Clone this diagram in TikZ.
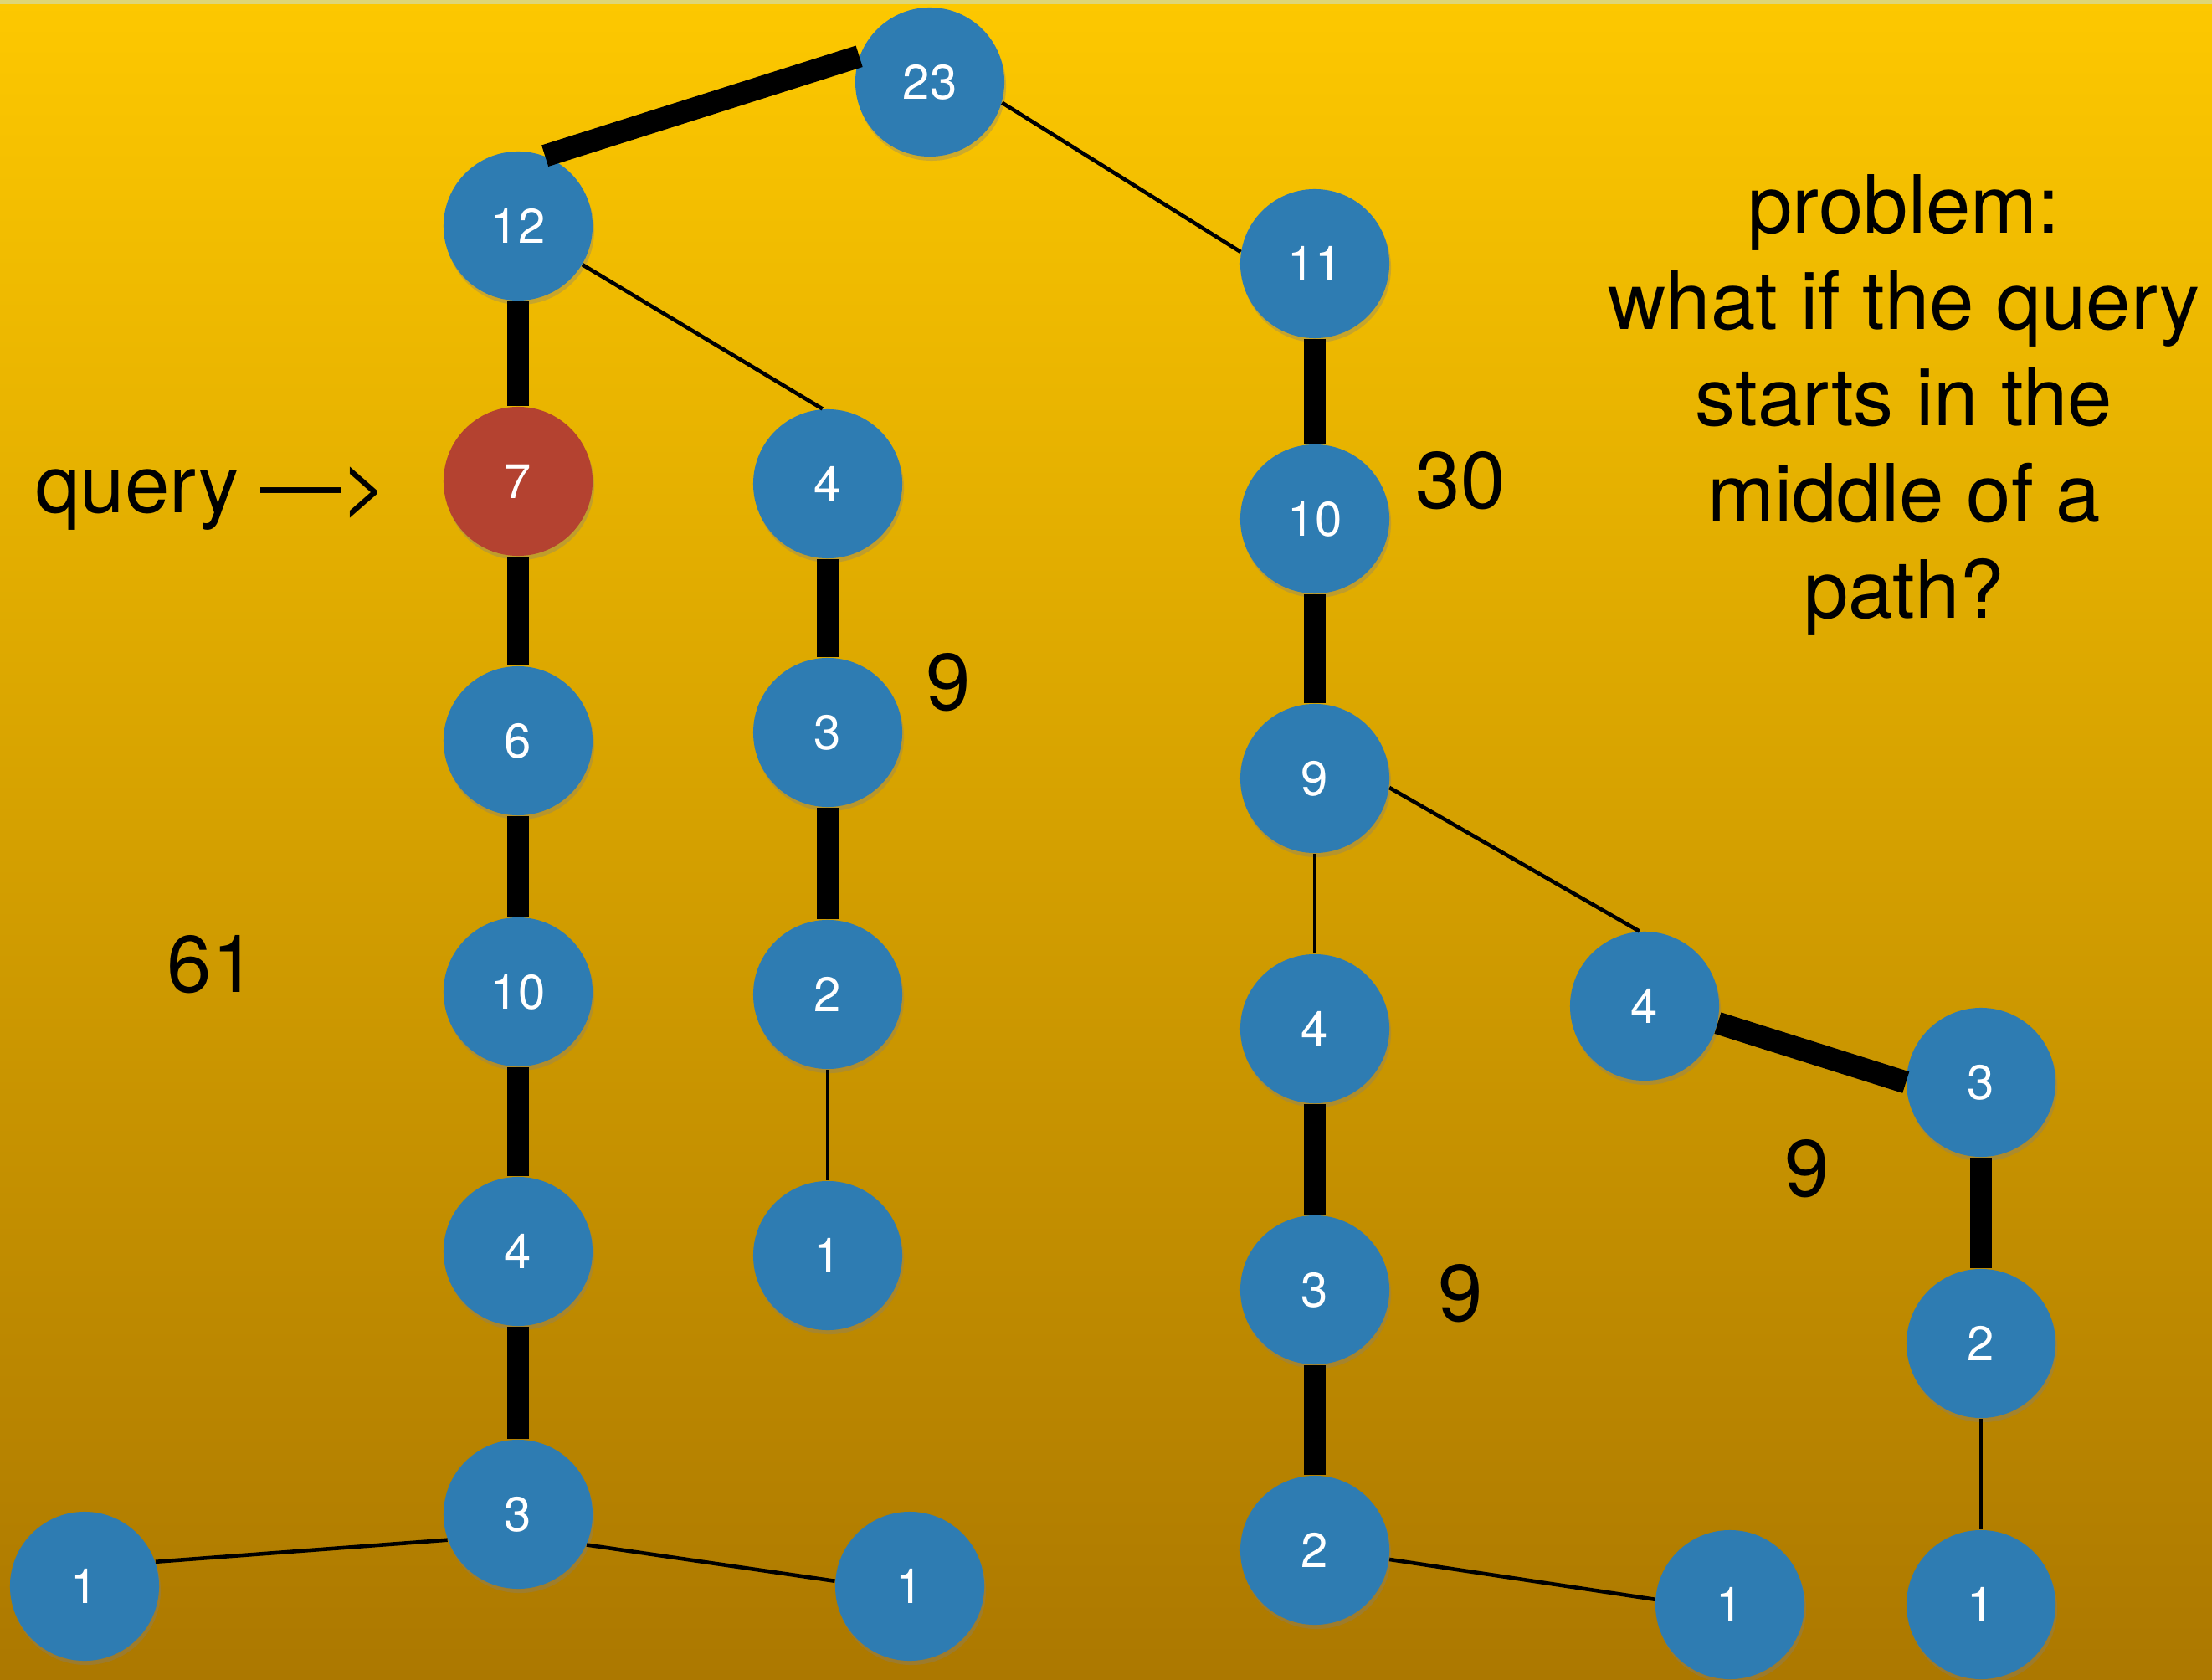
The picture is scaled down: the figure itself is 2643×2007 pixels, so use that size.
\documentclass[tikz,border=0pt]{standalone}
\usepackage{fontspec}
\setmainfont{TeX Gyre Heros}
\usepackage{xcolor}
\usetikzlibrary{shadows}

\definecolor{bgtop}{RGB}{253,200,0}
\definecolor{bgmid}{RGB}{236,172,0}
\definecolor{bgbot}{RGB}{172,120,0}
\definecolor{bgline}{RGB}{222,214,120}
\definecolor{vtxblue}{RGB}{46,124,178}
\definecolor{vtxred}{RGB}{180,66,48}

\begin{document}
\begin{tikzpicture}[
    x=0.01cm, y=-0.01cm,
    vtx/.style={circle, fill=vtxblue, text=white, minimum size=1.78cm, inner sep=0pt,
        font=\fontsize{16.5}{16.5}\selectfont,
        drop shadow={shadow xshift=0.02cm, shadow yshift=-0.05cm, opacity=0.35}},
    heavy/.style={line width=7.6pt, black},
    light/.style={line width=1.3pt, black},
    big/.style={font=\fontsize{27.3}{32.7}\selectfont, anchor=base}
]

    % Sfondo
    \useasboundingbox (0,0) rectangle (2643,2007);
    \shade[top color=bgtop, middle color=bgmid, bottom color=bgbot] (0,0) rectangle (2643,2007);
    \fill[bgline] (0,0) rectangle (2643,5);

    % Albero: nodi
    \node[vtx] (n23) at (1111,98) {23};
    \node[vtx] (n12) at (619,270) {12};
    \node[vtx] (n11) at (1571,315) {11};
    \node[vtx, fill=vtxred] (n7) at (619,575) {7};
    \node[vtx] (n4a) at (989,578) {4};
    \node[vtx] (n10a) at (1571,620) {10};
    \node[vtx] (n6) at (619,885) {6};
    \node[vtx] (n3a) at (989,875) {3};
    \node[vtx] (n9) at (1571,930) {9};
    \node[vtx] (n10b) at (619,1185) {10};
    \node[vtx] (n2a) at (989,1188) {2};
    \node[vtx] (n4b) at (1571,1229) {4};
    \node[vtx] (n4c) at (1965,1202) {4};
    \node[vtx] (n3b) at (2367,1293) {3};
    \node[vtx] (n4d) at (619,1495) {4};
    \node[vtx] (n1a) at (989,1500) {1};
    \node[vtx] (n3c) at (1571,1541) {3};
    \node[vtx] (n2b) at (2367,1605) {2};
    \node[vtx] (n3d) at (619,1809) {3};
    \node[vtx] (n1b) at (101,1895) {1};
    \node[vtx] (n1c) at (1087,1895) {1};
    \node[vtx] (n2c) at (1571,1852) {2};
    \node[vtx] (n1d) at (2067,1917) {1};
    \node[vtx] (n1e) at (2367,1917) {1};

    % Cammini pesanti
    \draw[heavy] (n12.69) -- (n23.160);
    \draw[heavy] (n12) -- (n7);
    \draw[heavy] (n7) -- (n6);
    \draw[heavy] (n6) -- (n10b);
    \draw[heavy] (n10b) -- (n4d);
    \draw[heavy] (n4d) -- (n3d);
    \draw[heavy] (n4a) -- (n3a);
    \draw[heavy] (n3a) -- (n2a);
    \draw[heavy] (n11) -- (n10a);
    \draw[heavy] (n10a) -- (n9);
    \draw[heavy] (n4b) -- (n3c);
    \draw[heavy] (n3c) -- (n2c);
    \draw[heavy] (n4c.-13) -- (n3b.180);
    \draw[heavy] (n3b) -- (n2b);

    % Archi leggeri
    \draw[light] (n23.-16) -- (n11.171);
    \draw[light] (n12.-31) -- (n4a.94);
    \draw[light] (n2a) -- (n1a);
    \draw[light] (n9) -- (n4b);
    \draw[light] (n9.-7) -- (n4c.94);
    \draw[light] (n2b) -- (n1e);
    \draw[light] (n1b.19) -- (n3d.200);
    \draw[light] (n3d.-24) -- (n1c.176);
    \draw[light] (n2c.-7) -- (n1d.176);

    % Etichette
    \node[big] (query) at (253,613) {query —>};
    \node[big] (w61) at (253,1185) {61};
    \node[big] (w9a) at (1133,848) {9};
    \node[big] (w30) at (1745,608) {30};
    \node[big] (w9b) at (1745,1578) {9};
    \node[big] (w9c) at (2159,1429) {9};
    \node[big, anchor=center, align=center] (problem) at (2275,484)
        {problem:\\what if the query\\starts in the\\middle of a\\path?};

\end{tikzpicture}
\end{document}
